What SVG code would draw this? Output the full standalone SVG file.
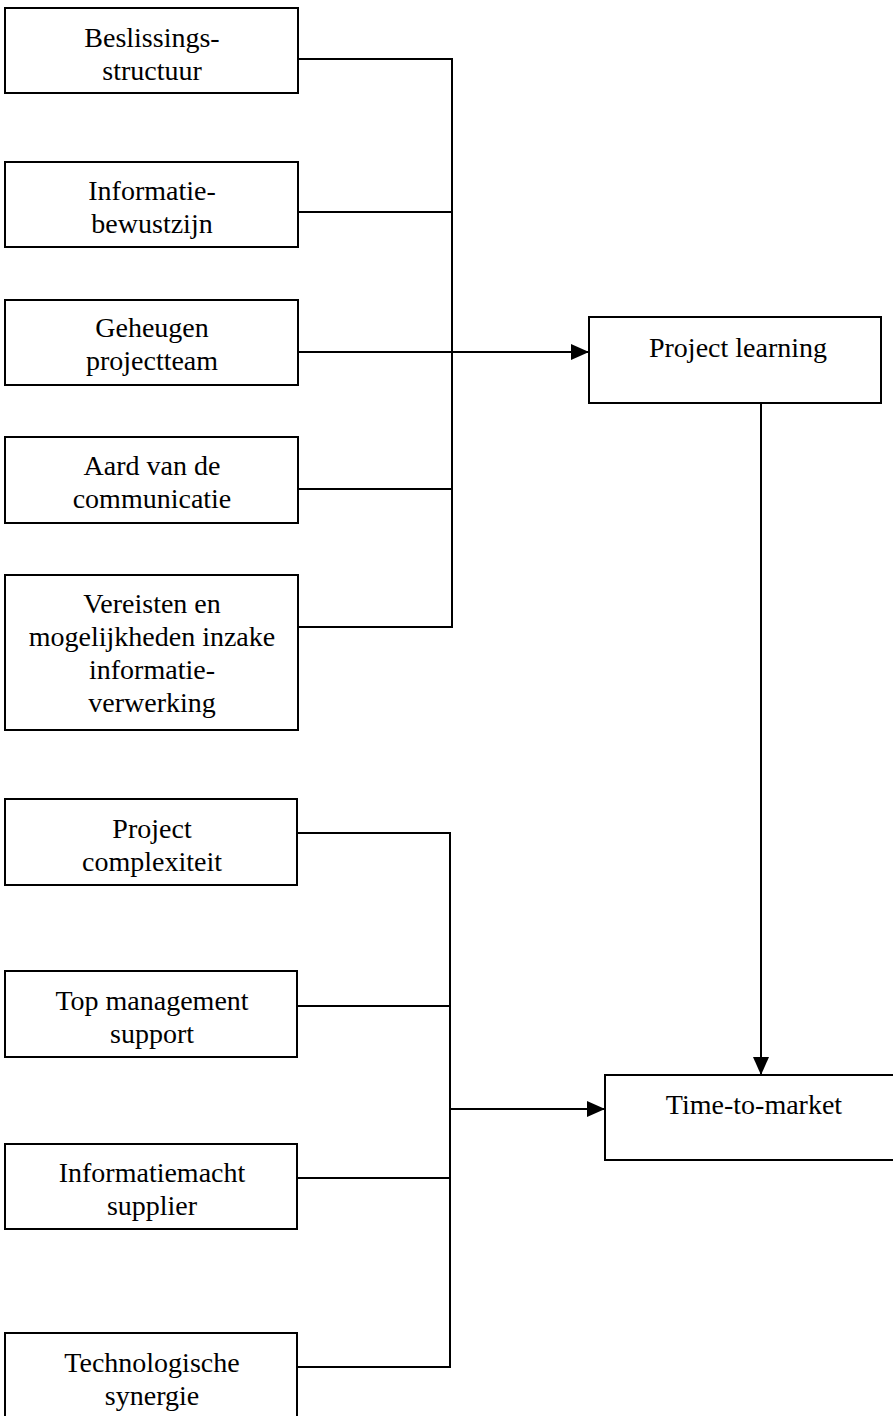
<svg xmlns="http://www.w3.org/2000/svg" width="893" height="1416" viewBox="0 0 893 1416">
<defs>
<style>
.box{fill:#fff;stroke:#000;stroke-width:2}
.t{font-family:"Liberation Serif","Times New Roman",serif;font-size:28px;fill:#000;text-anchor:middle}
.c{fill:none;stroke:#000;stroke-width:2}
</style>
<marker id="arr" markerUnits="userSpaceOnUse" markerWidth="18" markerHeight="16" refX="18" refY="8" orient="auto">
<path d="M0,0 L18,8 L0,16 z" fill="#000"/>
</marker>
</defs>
<rect width="893" height="1416" fill="#fff"/>
<g id="connectors">
<path class="c" d="M298,59 H452 M298,212 H452 M298,489 H452 M298,627 H452 M452,58 V628"/>
<path class="c" d="M298,352 H589" marker-end="url(#arr)"/>
<path class="c" d="M761,403 V1075" marker-end="url(#arr)"/>
<path class="c" d="M297,833 H450 M297,1006 H450 M297,1178 H450 M297,1367 H450 M450,832 V1368"/>
<path class="c" d="M450,1109 H605" marker-end="url(#arr)"/>
</g>
<g id="n1"><rect class="box" x="5" y="8" width="293" height="85"/><text class="t" x="152" y="47">Beslissings-</text><text class="t" x="152" y="80">structuur</text></g>
<g id="n2"><rect class="box" x="5" y="162" width="293" height="85"/><text class="t" x="152" y="200">Informatie-</text><text class="t" x="152" y="233">bewustzijn</text></g>
<g id="n3"><rect class="box" x="5" y="300" width="293" height="85"/><text class="t" x="152" y="337">Geheugen</text><text class="t" x="152" y="370">projectteam</text></g>
<g id="n4"><rect class="box" x="5" y="437" width="293" height="86"/><text class="t" x="152" y="475">Aard van de</text><text class="t" x="152" y="508">communicatie</text></g>
<g id="n5"><rect class="box" x="5" y="575" width="293" height="155"/><text class="t" x="152" y="613">Vereisten en</text><text class="t" x="152" y="646">mogelijkheden inzake</text><text class="t" x="152" y="679">informatie-</text><text class="t" x="152" y="712">verwerking</text></g>
<g id="n6"><rect class="box" x="5" y="799" width="292" height="86"/><text class="t" x="152" y="838">Project</text><text class="t" x="152" y="871">complexiteit</text></g>
<g id="n7"><rect class="box" x="5" y="971" width="292" height="86"/><text class="t" x="152" y="1010">Top management</text><text class="t" x="152" y="1043">support</text></g>
<g id="n8"><rect class="box" x="5" y="1144" width="292" height="85"/><text class="t" x="152" y="1182">Informatiemacht</text><text class="t" x="152" y="1215">supplier</text></g>
<g id="n9"><rect class="box" x="5" y="1333" width="292" height="95"/><text class="t" x="152" y="1372">Technologische</text><text class="t" x="152" y="1405">synergie</text></g>
<g id="pl"><rect class="box" x="589" y="317" width="292" height="86"/><text class="t" x="738" y="357">Project learning</text></g>
<g id="ttm"><rect class="box" x="605" y="1075" width="300" height="85"/><text class="t" x="754" y="1114">Time-to-market</text></g>
</svg>
